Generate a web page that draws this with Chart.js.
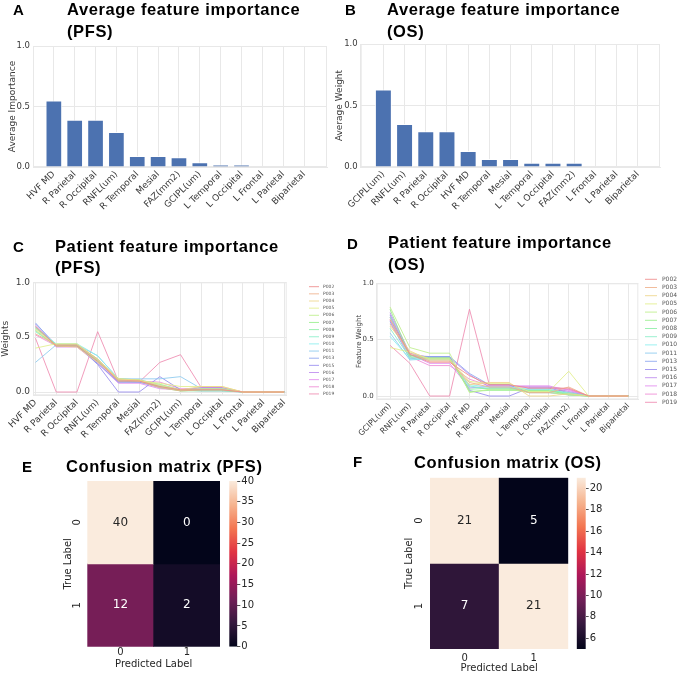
<!DOCTYPE html>
<html>
<head>
<meta charset="utf-8">
<script src="https://cdn.jsdelivr.net/npm/chart.js@4.4.1/dist/chart.umd.min.js"></script>
<style>
  html, body { margin: 0; padding: 0; background: #fff; }
  #fig { position: relative; width: 680px; height: 674px; overflow: hidden; background: #fff; }
  #fig canvas { position: absolute; }
  .lbl { position: absolute; font-family: 'Liberation Sans', Arial, sans-serif; font-weight: bold; color: #000; line-height: 1; white-space: nowrap; z-index: 2; }
  .title { font-size: 16.5px; letter-spacing: 0.6px; }
  .letter { font-size: 15px; }
</style>
</head>
<body>
<div id="fig">
  <canvas id="cA" width="340" height="230" style="left:0;top:0"></canvas>
  <canvas id="cB" width="355" height="230" style="left:325px;top:0"></canvas>
  <canvas id="cC" width="340" height="220" style="left:0;top:230px"></canvas>
  <canvas id="cD" width="340" height="220" style="left:340px;top:230px"></canvas>
  <canvas id="cE" width="225" height="224" style="left:0;top:450px"></canvas>
  <canvas id="cEbar" width="80" height="224" style="left:225px;top:450px"></canvas>
  <canvas id="cF" width="240" height="224" style="left:340px;top:450px"></canvas>
  <canvas id="cFbar" width="110" height="224" style="left:570px;top:450px"></canvas>

  <div class="lbl letter" style="left:13px;top:2px">A</div>
  <div class="lbl title" style="left:67px;top:1px">Average feature importance</div>
  <div class="lbl title" style="left:67px;top:23px">(PFS)</div>

  <div class="lbl letter" style="left:345px;top:2px">B</div>
  <div class="lbl title" style="left:387px;top:1px">Average feature importance</div>
  <div class="lbl title" style="left:387px;top:23px">(OS)</div>

  <div class="lbl letter" style="left:13px;top:239px">C</div>
  <div class="lbl title" style="left:55px;top:238px">Patient feature importance</div>
  <div class="lbl title" style="left:55px;top:259px">(PFS)</div>

  <div class="lbl letter" style="left:347px;top:236px">D</div>
  <div class="lbl title" style="left:388px;top:234px">Patient feature importance</div>
  <div class="lbl title" style="left:388px;top:256px">(OS)</div>

  <div class="lbl letter" style="left:22px;top:459px">E</div>
  <div class="lbl title" style="left:66px;top:458px">Confusion matrix (PFS)</div>

  <div class="lbl letter" style="left:353px;top:454px">F</div>
  <div class="lbl title" style="left:414px;top:454px">Confusion matrix (OS)</div>
</div>
<script>
// Feature order on each x axis
const pfsFeatures = ['HVF MD', 'R Parietal', 'R Occipital', 'RNFL(um)', 'R Temporal', 'Mesial', 'FAZ(mm2)', 'GCIPL(um)', 'L Temporal', 'L Occipital', 'L Frontal', 'L Parietal', 'Biparietal'];
const osFeatures = ['GCIPL(um)', 'RNFL(um)', 'R Parietal', 'R Occipital', 'HVF MD', 'R Temporal', 'Mesial', 'L Temporal', 'L Occipital', 'FAZ(mm2)', 'L Frontal', 'L Parietal', 'Biparietal'];

// Average importance (panels A and B)
const pfsAverage = [0.55, 0.39, 0.39, 0.29, 0.09, 0.09, 0.08, 0.04, 0.02, 0.02, 0, 0, 0];
const osAverage = [0.63, 0.35, 0.29, 0.29, 0.13, 0.065, 0.065, 0.035, 0.035, 0.035, 0, 0, 0];

// Per patient weights (panels C and D), one row per patient
const patients = ['P002', 'P003', 'P004', 'P005', 'P006', 'P007', 'P008', 'P009', 'P010', 'P011', 'P013', 'P015', 'P016', 'P017', 'P018', 'P019'];
const pfsPatientWeights = [
    [0.60, 0.42, 0.42, 0.28, 0.10, 0.10, 0.05, 0.02, 0.02, 0.02, 0, 0, 0],
    [0.53, 0.43, 0.43, 0.30, 0.11, 0.10, 0.04, 0.01, 0.02, 0.02, 0, 0, 0],
    [0.57, 0.42, 0.41, 0.27, 0.12, 0.11, 0.06, 0.02, 0.05, 0.05, 0, 0, 0],
    [0.40, 0.44, 0.44, 0.30, 0.12, 0.10, 0.08, 0.05, 0.05, 0.05, 0, 0, 0],
    [0.58, 0.43, 0.43, 0.29, 0.11, 0.11, 0.07, 0.02, 0.03, 0.03, 0, 0, 0],
    [0.56, 0.42, 0.42, 0.28, 0.12, 0.11, 0.05, 0.01, 0.02, 0.02, 0, 0, 0],
    [0.59, 0.43, 0.43, 0.30, 0.10, 0.10, 0.04, 0.01, 0.01, 0.01, 0, 0, 0],
    [0.55, 0.42, 0.42, 0.29, 0.11, 0.10, 0.06, 0.02, 0.02, 0.02, 0, 0, 0],
    [0.58, 0.44, 0.44, 0.33, 0.12, 0.11, 0.07, 0.02, 0.02, 0.02, 0, 0, 0],
    [0.27, 0.43, 0.43, 0.33, 0.12, 0.12, 0.12, 0.14, 0.03, 0.03, 0, 0, 0],
    [0.63, 0.42, 0.42, 0.26, 0.09, 0.09, 0.05, 0.02, 0.01, 0.01, 0, 0, 0],
    [0.62, 0.43, 0.43, 0.25, 0.00, 0.00, 0.14, 0.02, 0.02, 0.02, 0, 0, 0],
    [0.60, 0.42, 0.42, 0.27, 0.09, 0.09, 0.04, 0.02, 0.04, 0.04, 0, 0, 0],
    [0.59, 0.41, 0.41, 0.26, 0.08, 0.08, 0.03, 0.02, 0.04, 0.04, 0, 0, 0],
    [0.52, 0.42, 0.42, 0.29, 0.10, 0.10, 0.09, 0.03, 0.03, 0.03, 0, 0, 0],
    [0.49, 0.00, 0.00, 0.55, 0.10, 0.09, 0.27, 0.34, 0.04, 0.04, 0, 0, 0]
];
const osPatientWeights = [
    [0.68, 0.37, 0.30, 0.30, 0.18, 0.10, 0.10, 0.07, 0.07, 0.07, 0, 0, 0],
    [0.64, 0.38, 0.31, 0.31, 0.12, 0.08, 0.08, 0.03, 0.03, 0.08, 0, 0, 0],
    [0.62, 0.40, 0.32, 0.32, 0.10, 0.12, 0.12, 0.00, 0.00, 0.02, 0, 0, 0],
    [0.43, 0.39, 0.33, 0.33, 0.13, 0.11, 0.11, 0.04, 0.04, 0.22, 0, 0, 0],
    [0.79, 0.43, 0.38, 0.38, 0.03, 0.06, 0.06, 0.03, 0.03, 0.01, 0, 0, 0],
    [0.77, 0.36, 0.34, 0.34, 0.04, 0.05, 0.05, 0.05, 0.05, 0.01, 0, 0, 0],
    [0.70, 0.35, 0.33, 0.33, 0.06, 0.07, 0.07, 0.04, 0.04, 0.02, 0, 0, 0],
    [0.60, 0.34, 0.33, 0.33, 0.09, 0.06, 0.06, 0.05, 0.05, 0.03, 0, 0, 0],
    [0.53, 0.33, 0.32, 0.32, 0.10, 0.08, 0.08, 0.06, 0.06, 0.02, 0, 0, 0],
    [0.56, 0.32, 0.33, 0.33, 0.08, 0.07, 0.07, 0.06, 0.06, 0.02, 0, 0, 0],
    [0.66, 0.33, 0.35, 0.35, 0.20, 0.10, 0.10, 0.03, 0.03, 0.01, 0, 0, 0],
    [0.72, 0.36, 0.35, 0.35, 0.05, 0.00, 0.00, 0.07, 0.07, 0.03, 0, 0, 0],
    [0.74, 0.38, 0.34, 0.34, 0.19, 0.08, 0.08, 0.08, 0.08, 0.04, 0, 0, 0],
    [0.70, 0.37, 0.29, 0.29, 0.07, 0.09, 0.09, 0.09, 0.09, 0.05, 0, 0, 0],
    [0.67, 0.35, 0.27, 0.27, 0.15, 0.09, 0.09, 0.08, 0.08, 0.06, 0, 0, 0],
    [0.45, 0.29, 0.00, 0.00, 0.77, 0.10, 0.10, 0.03, 0.03, 0.06, 0, 0, 0]
];
const weightTicks = [0, 0.5, 1.0];

// Confusion matrices (rows = true label, cols = predicted label)
const predictedLabels = ['0', '1'];
const trueLabels = ['0', '1'];
const pfsMatrix = [[40, 0], [12, 2]];
const osMatrix = [[21, 5], [7, 21]];
const pfsColorbarTicks = [0, 5, 10, 15, 20, 25, 30, 35, 40];
const osColorbarTicks = [6, 8, 10, 12, 14, 16, 18, 20];

// seaborn "rocket" colormap, sampled
const rocketStops = [
    [0.000, [3, 5, 26]],
    [0.143, [53, 25, 62]],
    [0.286, [112, 31, 87]],
    [0.429, [173, 23, 89]],
    [0.571, [225, 51, 66]],
    [0.714, [243, 118, 81]],
    [0.857, [246, 180, 143]],
    [1.000, [250, 235, 221]]
];

function rocket(t) {
    t = Math.max(0, Math.min(1, t));
    for (let i = 1; i < rocketStops.length; i++) {
        const [t1, c1] = rocketStops[i];
        const [t0, c0] = rocketStops[i - 1];
        if (t <= t1) {
            const f = (t - t0) / (t1 - t0);
            return c0.map((v, k) => Math.round(v + (c1[k] - v) * f));
        }
    }
    return rocketStops[rocketStops.length - 1][1];
}
const rgb = c => `rgb(${c[0]}, ${c[1]}, ${c[2]})`;

Chart.defaults.font.family = "'DejaVu Sans', sans-serif";
Chart.defaults.color = '#3a3a3a';
Chart.defaults.animation = false;
Chart.defaults.responsive = false;
Chart.defaults.plugins.legend.display = false;
Chart.defaults.plugins.tooltip.enabled = false;

const GRID = '#e8e8e8';

// light frame round the plot area (seaborn whitegrid look)
const framePlugin = {
    id: 'frame',
    beforeDatasetsDraw(chart) {
        const { ctx, chartArea: a } = chart;
        ctx.save();
        ctx.strokeStyle = GRID;
        ctx.lineWidth = 1;
        ctx.strokeRect(a.left + 0.5, a.top + 0.5, a.right - a.left - 1, a.bottom - a.top - 1);
        ctx.restore();
    }
};

// legend drawn to the right of the line charts
const sideLegend = {
    id: 'sideLegend',
    afterDraw(chart, args, opts) {
        const { ctx } = chart;
        ctx.save();
        ctx.font = `${opts.size}px 'DejaVu Sans'`;
        ctx.textBaseline = 'middle';
        chart.data.datasets.forEach((ds, i) => {
            const y = opts.y + i * opts.step;
            ctx.strokeStyle = ds.borderColor;
            ctx.lineWidth = 1;
            ctx.beginPath();
            ctx.moveTo(opts.x, y);
            ctx.lineTo(opts.x + opts.len, y);
            ctx.stroke();
            ctx.fillStyle = '#555';
            ctx.fillText(ds.label, opts.x + opts.len + opts.gap, y);
        });
        ctx.restore();
    }
};

function featureAxis(features, min, max, fontSize, height) {
    return {
        type: 'linear', min: min, max: max, offset: false,
        afterBuildTicks: s => { s.ticks = features.map((f, i) => ({ value: i })); },
        afterFit: s => { s.height = height; },
        ticks: { callback: v => features[v], minRotation: 45, maxRotation: 45, autoSkip: false, padding: 2, font: { size: fontSize } },
        grid: { color: GRID, drawTicks: false, offset: false },
        border: { color: GRID }
    };
}

function weightAxis(title, min, width, fontSize, titleSize, titlePad) {
    return {
        min: min, max: 1.0,
        afterBuildTicks: s => { s.ticks = weightTicks.map(v => ({ value: v })); },
        afterFit: s => { s.width = width; },
        ticks: { callback: v => v.toFixed(1), padding: 3, font: { size: fontSize } },
        grid: { color: GRID, drawTicks: false },
        border: { color: GRID },
        title: { display: true, text: title, font: { size: titleSize }, padding: { top: titlePad, bottom: 0 } }
    };
}

function averageChart(id, features, values, yTitle, g) {
    new Chart(document.getElementById(id), {
        type: 'bar',
        data: {
            datasets: [{
                data: values.map((v, i) => ({ x: i, y: v })),
                backgroundColor: '#4c72b0',
                borderColor: 'rgba(255, 255, 255, 0.85)',
                borderWidth: 1,
                barPercentage: 0.8,
                categoryPercentage: 1.0
            }]
        },
        options: {
            layout: { padding: { left: 0, top: g.top, right: g.right, bottom: 0 } },
            scales: {
                x: featureAxis(features, g.xmin, g.xmax, 9, g.xh),
                y: weightAxis(yTitle, 0, g.yw, 8.5, 9, g.tp)
            }
        },
        plugins: [framePlugin]
    });
}

function patientChart(id, features, rows, yTitle, g) {
    new Chart(document.getElementById(id), {
        type: 'line',
        data: {
            datasets: rows.map((row, p) => ({
                label: patients[p],
                data: row.map((v, i) => ({ x: i, y: v })),
                borderColor: `hsla(${p * 22.5}, 75%, 74%, 0.85)`,
                borderWidth: 1,
                pointRadius: 0,
                tension: 0,
                fill: false
            }))
        },
        options: {
            layout: { padding: { left: 0, top: g.top, right: g.right, bottom: 0 } },
            scales: {
                x: featureAxis(features, g.xmin, g.xmax, g.labelSize, g.xh),
                y: weightAxis(yTitle, -0.03, g.yw, g.tickSize, g.titleSize, g.tp)
            },
            plugins: { sideLegend: g.legend }
        },
        plugins: [framePlugin, sideLegend]
    });
}

// value annotation in each cell
const cellText = {
    id: 'cellText',
    afterDatasetsDraw(chart, args, opts) {
        const { ctx, scales: { x, y } } = chart;
        ctx.save();
        ctx.font = "12px 'DejaVu Sans'";
        ctx.textAlign = 'center';
        ctx.textBaseline = 'middle';
        opts.matrix.forEach((row, i) => row.forEach((v, j) => {
            const c = rocket((v - opts.vmin) / (opts.vmax - opts.vmin));
            const lum = (0.2126 * c[0] + 0.7152 * c[1] + 0.0722 * c[2]) / 255;
            ctx.fillStyle = lum > 0.408 ? '#262626' : '#ffffff';
            ctx.fillText(String(v), x.getPixelForValue(j), y.getPixelForValue(i + 0.5));
        }));
        // row tick labels, turned like seaborn's
        ctx.font = "10px 'DejaVu Sans'";
        ctx.fillStyle = '#262626';
        trueLabels.forEach((lab, i) => {
            ctx.save();
            ctx.translate(opts.rowX, y.getPixelForValue(i + 0.5));
            ctx.rotate(-Math.PI / 2);
            ctx.fillText(lab, 0, 0);
            ctx.restore();
        });
        ctx.restore();
    }
};

function heatmap(id, matrix, vmin, vmax, g) {
    new Chart(document.getElementById(id), {
        type: 'bar',
        data: {
            labels: predictedLabels,
            datasets: trueLabels.map((lab, i) => ({
                data: predictedLabels.map(() => [i, i + 1]),
                backgroundColor: matrix[i].map(v => rgb(rocket((v - vmin) / (vmax - vmin)))),
                borderWidth: 0,
                barPercentage: 1.0,
                categoryPercentage: 1.0,
                grouped: false
            }))
        },
        options: {
            layout: { padding: { left: 55, top: g.top, right: g.right, bottom: 0 } },
            scales: {
                x: {
                    afterFit: s => { s.height = g.xh; },
                    grid: { display: false, drawTicks: false },
                    border: { display: false },
                    ticks: { color: '#262626', font: { size: 10 }, padding: g.tickPad },
                    title: { display: true, text: 'Predicted Label', color: '#262626', font: { size: 10 }, padding: { top: 0, bottom: g.xtp } }
                },
                y: {
                    min: 0, max: 2, reverse: true,
                    afterFit: s => { s.width = g.yw; },
                    grid: { display: false, drawTicks: false },
                    border: { display: false },
                    ticks: { display: false },
                    title: { display: true, text: 'True Label', color: '#262626', font: { size: 10 }, padding: { top: g.ytp, bottom: 0 } }
                }
            },
            plugins: { cellText: { matrix: matrix, vmin: vmin, vmax: vmax, rowX: g.rowX } }
        },
        plugins: [cellText]
    });
}

function colorbar(id, vmin, vmax, ticks, g) {
    new Chart(document.getElementById(id), {
        type: 'bar',
        data: {
            labels: [''],
            datasets: [{
                data: [[vmin, vmax]],
                backgroundColor(c) {
                    const a = c.chart.chartArea;
                    if (!a) return null;
                    const grad = c.chart.ctx.createLinearGradient(0, a.bottom, 0, a.top);
                    rocketStops.forEach(([t, col]) => grad.addColorStop(t, rgb(col)));
                    return grad;
                },
                borderWidth: 0,
                barPercentage: 1.0,
                categoryPercentage: 1.0
            }]
        },
        options: {
            layout: { padding: { left: g.left, top: g.top, right: 0, bottom: g.bottom } },
            scales: {
                x: { display: false },
                y: {
                    position: 'right', min: vmin, max: vmax,
                    afterBuildTicks: s => { s.ticks = ticks.map(v => ({ value: v })); },
                    afterFit: s => { s.width = g.yw; },
                    grid: { display: true, drawOnChartArea: false, drawTicks: true, tickLength: 3, color: '#262626', lineWidth: 0.8 },
                    border: { display: false },
                    ticks: { color: '#262626', font: { size: 10 }, padding: 1 }
                }
            }
        }
    });
}

averageChart('cA', pfsFeatures, pfsAverage, 'Average Importance',
    { top: 46, right: 13, xmin: -1, xmax: 13.1, xh: 63, yw: 33, tp: 7.6 });
averageChart('cB', osFeatures, osAverage, 'Average Weight',
    { top: 44, right: 20, xmin: -1.07, xmax: 13.05, xh: 63, yw: 35.7, tp: 9.6 });

patientChart('cC', pfsFeatures, pfsPatientWeights, 'Weights',
    { top: 52.3, right: 53.3, xmin: -0.12, xmax: 12.12, xh: 54.7, yw: 33, tp: 0.6,
      labelSize: 9, tickSize: 9, titleSize: 9,
      legend: { x: 309, y: 56.7, step: 7.15, len: 10, gap: 4, size: 4.5 } });
patientChart('cD', osFeatures, osPatientWeights, 'Feature Weight',
    { top: 53.3, right: 41.7, xmin: -0.67, xmax: 12.5, xh: 50.6, yw: 36.7, tp: 14.8,
      labelSize: 8, tickSize: 7, titleSize: 7,
      legend: { x: 305, y: 49.3, step: 8.2, len: 12, gap: 5, size: 6 } });

heatmap('cE', pfsMatrix, 0, 40,
    { top: 31, right: 5, xh: 27.3, yw: 32.3, tickPad: 0, xtp: 4, ytp: 7.3, rowX: 77.5 });
colorbar('cEbar', 0, 40, pfsColorbarTicks, { left: 4.3, top: 31, bottom: 27.3, yw: 67.7 });

heatmap('cF', osMatrix, 5, 21,
    { top: 27.7, right: 11.7, xh: 25, yw: 35, tickPad: 3, xtp: 0, ytp: 8, rowX: 79.5 });
colorbar('cFbar', 5, 21, osColorbarTicks, { left: 6.7, top: 27.7, bottom: 25, yw: 94.3 });
</script>
</body>
</html>
